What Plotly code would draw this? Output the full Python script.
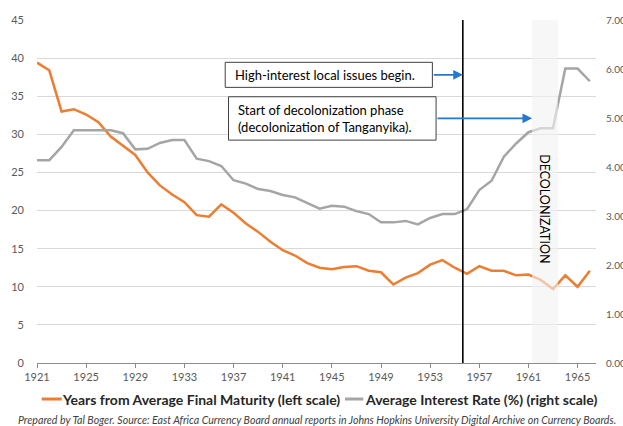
import plotly.graph_objects as go

years = list(range(1921, 1967))
maturity = [39.4, 38.4, 33.0, 33.3, 32.6, 31.6, 29.7, 28.5, 27.3, 25.0,
            23.3, 22.1, 21.1, 19.4, 19.2, 20.8, 19.7, 18.3, 17.2, 15.9,
            14.8, 14.1, 13.1, 12.5, 12.3, 12.6, 12.7, 12.1, 11.9, 10.3,
            11.2, 11.8, 12.9, 13.5, 12.5, 11.7, 12.7, 12.1, 12.1, 11.5,
            11.6, 10.9, 9.7, 11.5, 10.0, 12.1]
interest = [4.14, 4.14, 4.41, 4.75, 4.75, 4.75, 4.75, 4.69, 4.36, 4.37,
            4.49, 4.55, 4.55, 4.17, 4.12, 4.02, 3.73, 3.66, 3.55, 3.51,
            3.43, 3.38, 3.26, 3.15, 3.21, 3.19, 3.10, 3.04, 2.87, 2.87,
            2.90, 2.83, 2.96, 3.04, 3.04, 3.14, 3.53, 3.72, 4.21, 4.48,
            4.71, 4.79, 4.79, 6.01, 6.01, 5.75]
x_ticks = list(range(1921, 1967, 4))
left_ticks = list(range(0, 46, 5))
right_ticks = [0, 1, 2, 3, 4, 5, 6, 7]

name_mat = "Years from Average Final Maturity (left scale)"
name_int = "Average Interest Rate (%) (right scale)"
ORANGE, GREY = "#ED7D31", "#A5A5A5"

event_year = 1955.66
decol_start, decol_end = 1961.3, 1963.4

FONT = "Lato"
fig = go.Figure()
fig.add_trace(go.Scatter(x=years, y=maturity, mode="lines", name=name_mat,
                         line=dict(color=ORANGE, width=2.5)))
fig.add_trace(go.Scatter(x=years, y=interest, mode="lines", yaxis="y2", name=name_int,
                         line=dict(color=GREY, width=2.5)))

LEG_Y = -0.105
shapes = [
    dict(type="rect", xref="x", yref="paper", x0=decol_start, x1=decol_end, y0=0, y1=1,
         fillcolor="rgba(242,242,242,0.62)", line=dict(width=0), layer="above"),
    dict(type="line", xref="x", yref="paper", x0=event_year, x1=event_year, y0=0, y1=1,
         line=dict(color="#000000", width=1.6), layer="above"),
    dict(type="rect", xref="paper", yref="paper", x0=0.3367, x1=0.7073, y0=0.8036, y1=0.8766,
         fillcolor="white", line=dict(color="#404040", width=1), layer="above"),
    dict(type="rect", xref="paper", yref="paper", x0=0.3426, x1=0.7139, y0=0.6498, y1=0.7762,
         fillcolor="white", line=dict(color="#404040", width=1), layer="above"),
    # legend swatches
    dict(type="line", xref="paper", yref="paper", x0=0.0084, x1=0.0442, y0=LEG_Y, y1=LEG_Y,
         line=dict(color=ORANGE, width=3)),
    dict(type="line", xref="paper", yref="paper", x0=0.551, x1=0.5837, y0=LEG_Y, y1=LEG_Y,
         line=dict(color=GREY, width=3)),
]

annotations = [
    dict(xref="paper", yref="paper", x=0.350, y=0.8401, xanchor="left", yanchor="middle",
         text="High-interest local issues begin.", showarrow=False, align="left",
         font=dict(family=FONT, size=13, color="#000000")),
    dict(xref="paper", yref="paper", x=0.3563, y=0.7132, xanchor="left", yanchor="middle",
         text="Start of decolonization phase<br>(decolonization of Tanganyika).",
         showarrow=False, align="left",
         font=dict(family=FONT, size=13, color="#000000")),
    dict(xref="x", yref="paper", x=event_year, y=0.8401, axref="x", ayref="pixel",
         ax=1921 + (432.3 - 37) / 559 * 45.5, ay=0, showarrow=True, arrowhead=2,
         arrowsize=1.2, arrowwidth=1.6, arrowcolor="#2478CE", text=""),
    dict(xref="x", yref="paper", x=decol_start, y=0.7132, axref="x", ayref="pixel",
         ax=1921 + (436 - 37) / 559 * 45.5, ay=0, showarrow=True, arrowhead=2,
         arrowsize=1.2, arrowwidth=1.6, arrowcolor="#2478CE", text=""),
    dict(xref="x", yref="paper", x=(decol_start + decol_end) / 2, y=0.4514,
         text="DECOLONIZATION", textangle=90, showarrow=False,
         font=dict(family=FONT, size=12.5, color="#000000")),
    # legend texts
    dict(xref="paper", yref="paper", x=0.046, y=LEG_Y, xanchor="left", yanchor="middle",
         xshift=-3, text="<b>" + name_mat + "</b>", showarrow=False,
         font=dict(family=FONT, size=14, color="#262626")),
    dict(xref="paper", yref="paper", x=0.5868, y=LEG_Y, xanchor="left", yanchor="middle",
         xshift=-2, text="<b>" + name_int + "</b>", showarrow=False,
         font=dict(family=FONT, size=14, color="#262626")),
    dict(xref="paper", yref="paper", x=0.5, y=-0.166, xanchor="center", yanchor="middle",
         text="<i>Prepared by Tal Boger. Source: East Africa Currency Board annual reports in Johns Hopkins University Digital Archive on Currency Boards.</i>",
         showarrow=False, font=dict(family=FONT, size=10.6, color="#404040")),
]

fig.update_layout(
    width=623, height=426,
    margin=dict(l=37, r=27, t=20, b=63, autoexpand=False),
    paper_bgcolor="white", plot_bgcolor="white",
    font=dict(family=FONT, color="#595959"),
    showlegend=False,
    xaxis=dict(range=[1921, 1966.5], tickmode="array", tickvals=x_ticks,
               showgrid=False, zeroline=False, showline=True, linecolor="#8C8C8C",
               linewidth=1, ticks="outside", ticklen=4, tickcolor="#8C8C8C",
               automargin=False,
               tickfont=dict(family=FONT, size=11, color="#595959")),
    yaxis=dict(range=[0, 45], tickmode="array", tickvals=left_ticks,
               showgrid=True, gridcolor="#D9D9D9", gridwidth=1, zeroline=False,
               showline=False, ticks="", ticklabelstandoff=12, automargin=False,
               tickfont=dict(family=FONT, size=11, color="#595959")),
    yaxis2=dict(range=[0, 7], overlaying="y", side="right", tickmode="array",
                tickvals=right_ticks, tickformat=".2f", showgrid=False, zeroline=False,
                showline=False, ticks="", ticklabelstandoff=9, automargin=False,
                tickfont=dict(family=FONT, size=10, color="#595959")),
    shapes=shapes, annotations=annotations,
)

fig.write_html("out.html", config={"displayModeBar": False},
               post_script="document.body.style.margin='0';document.body.style.overflow='hidden';")
